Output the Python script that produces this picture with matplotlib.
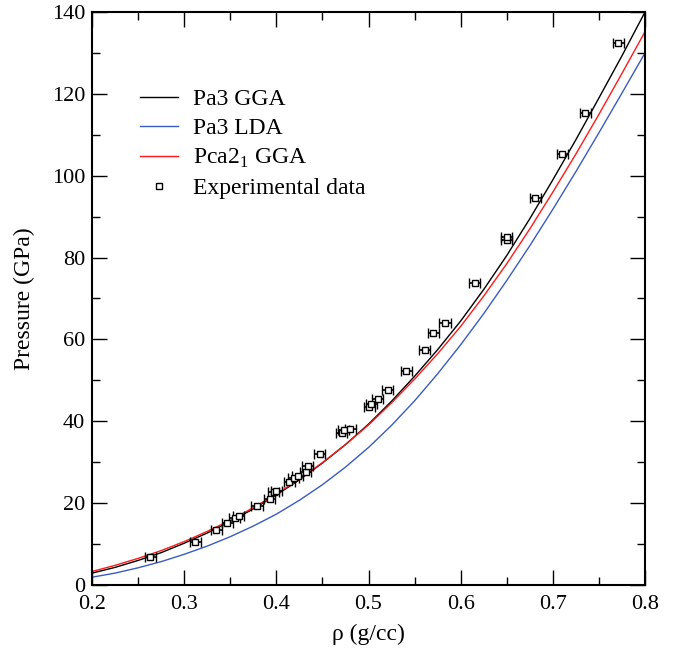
import matplotlib
matplotlib.use('Agg')
import matplotlib.pyplot as plt
from matplotlib.lines import Line2D
from matplotlib.ticker import MultipleLocator

plt.rcParams['font.family'] = ['Liberation Serif', 'DejaVu Serif']
plt.rcParams['mathtext.fontset'] = 'custom'
plt.rcParams['mathtext.rm'] = 'Liberation Serif'

# density grid for the calculated curves (g/cc)
rho_calc = [0.200, 0.225, 0.250, 0.275, 0.300, 0.325, 0.350, 0.375, 0.400, 0.425,
            0.450, 0.475, 0.500, 0.525, 0.550, 0.575, 0.600, 0.625, 0.650, 0.675,
            0.700, 0.725, 0.750, 0.775, 0.800]
p_pa3_gga = [2.9, 4.3, 6.0, 7.9, 10.2, 12.7, 15.5, 18.6, 22.0, 25.7,
             29.8, 34.3, 39.3, 44.9, 51.0, 57.5, 64.5, 72.2, 80.5, 89.5,
             99.0, 108.8, 119.0, 129.3, 140.0]
p_pa3_lda = [1.9, 2.9, 4.2, 5.7, 7.5, 9.5, 11.8, 14.4, 17.3, 20.7,
             24.5, 28.8, 33.6, 39.0, 45.0, 51.6, 58.7, 66.3, 74.4, 82.9,
             91.8, 101.0, 110.5, 120.2, 130.0]
p_pca21_gga = [3.3, 4.8, 6.5, 8.4, 10.6, 13.1, 15.8, 18.9, 22.2, 25.9,
               29.9, 34.3, 39.1, 44.5, 50.3, 56.5, 63.2, 70.6, 78.5, 87.0,
               96.0, 105.3, 115.0, 125.0, 135.2]

# experimental points
rho_exp = [0.263, 0.312, 0.335, 0.347, 0.355, 0.359, 0.379, 0.393, 0.397, 0.400,
           0.414, 0.419, 0.423, 0.432, 0.434, 0.447, 0.471, 0.473, 0.480, 0.501,
           0.503, 0.510, 0.521, 0.541, 0.561, 0.570, 0.583, 0.615, 0.650, 0.650,
           0.681, 0.710, 0.735, 0.771]
p_exp = [6.8, 10.6, 13.4, 15.2, 16.3, 16.9, 19.3, 20.9, 22.6, 23.0,
         25.2, 26.1, 26.6, 27.7, 29.1, 32.0, 37.1, 37.9, 38.0, 43.6,
         44.2, 45.4, 47.6, 52.4, 57.4, 61.5, 64.1, 73.9, 84.3, 85.1,
         94.6, 105.4, 115.2, 132.4]
rho_err = 0.006

fig = plt.figure(figsize=(6.75, 6.51), dpi=100)
ax = fig.add_axes([0.1363, 0.1014, 0.8193, 0.8802])

ax.plot(rho_calc, p_pa3_gga, color='black', lw=1.0)
ax.plot(rho_calc, p_pa3_lda, color='#3a5bc0', lw=1.0)
ax.plot(rho_calc, p_pca21_gga, color='#ff1a1a', lw=1.0)
ax.errorbar(rho_exp, p_exp, xerr=rho_err, fmt='s', ms=3.8, mfc='white', mec='black',
            mew=1.0, ecolor='black', elinewidth=1.2, capsize=3.5, capthick=1.2, zorder=5)

ax.set_xlim(0.2, 0.8)
ax.set_ylim(0, 140)
ax.xaxis.set_major_locator(MultipleLocator(0.1))
ax.xaxis.set_minor_locator(MultipleLocator(0.05))
ax.yaxis.set_major_locator(MultipleLocator(20))
ax.yaxis.set_minor_locator(MultipleLocator(10))
ax.tick_params(which='both', direction='in', top=True, right=True, labelsize=16, width=1.0)
ax.tick_params(which='major', length=10.5, pad=5)
ax.tick_params(axis='x', which='major', pad=7)
ax.tick_params(which='minor', length=5.5)
for s in ax.spines.values():
    s.set_linewidth(1.5)
ax.set_xlabel('ρ (g/cc)', fontsize=17, labelpad=7)
ax.set_ylabel('Pressure (GPa)', fontsize=17, labelpad=12)

handles = [
    Line2D([], [], color='black', lw=1.0),
    Line2D([], [], color='#3a5bc0', lw=1.0),
    Line2D([], [], color='#ff1a1a', lw=1.0),
    Line2D([], [], ls='none', marker='s', ms=3.8, mfc='white', mec='black', mew=1.0),
]
labels = ['Pa3 GGA', 'Pa3 LDA', 'Pca2$_\\mathregular{1}$ GGA', 'Experimental data']
ax.legend(handles, labels, loc='upper left', bbox_to_anchor=(0.087, 0.866), frameon=False,
          fontsize=17, handlelength=1.6, handletextpad=0.65, labelspacing=0.32,
          borderpad=0, borderaxespad=0)

fig.savefig('out.png', dpi=100)
